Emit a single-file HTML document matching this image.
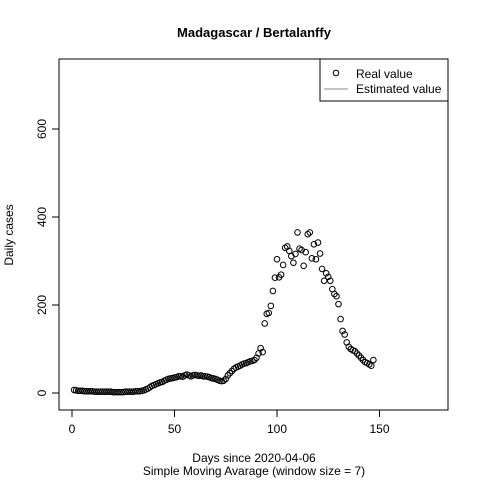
<!DOCTYPE html>
<html><head><meta charset="utf-8"><style>body{margin:0;background:#fff}svg{display:block;font-family:"Liberation Sans",sans-serif}</style></head>
<body>
<svg id="c" width="480" height="480" xmlns="http://www.w3.org/2000/svg">
<rect width="480" height="480" fill="#fff"/>
<text x="254" y="37" text-anchor="middle" font-size="13" font-weight="bold">Madagascar / Bertalanffy</text>
<rect x="59" y="59" width="389" height="351" fill="none" stroke="#000"/>
<g id="xt"></g><g id="yt"></g><g id="pts"></g>
<text transform="translate(13,235) rotate(-90)" text-anchor="middle" font-size="12">Daily cases</text>
<text x="254" y="462" text-anchor="middle" font-size="12">Days since 2020-04-06</text>
<text x="254" y="475" text-anchor="middle" font-size="12">Simple Moving Avarage (window size = 7)</text>
<g>
<rect x="320" y="59" width="128" height="42" fill="#fff" stroke="#000"/>
<circle cx="336" cy="73" r="2.8" fill="none" stroke="#000"/>
<text x="356" y="78" font-size="12">Real value</text>
<line x1="324" y1="89" x2="348" y2="89" stroke="#888"/>
<text x="356" y="93" font-size="12">Estimated value</text>
</g>
</svg>
<script>
const xTicks=[0,50,100,150];
const yTicks=[0,200,400,600];
const realValues=[7,6,5,5,5,4,4,4,4,4,3,3,3,3,3,3,3,3,3,2,2,2,2,2,2,3,3,3,3,3,4,4,4,5,6,8,10,13,16,18,20,22,24,25,28,30,32,33,34,35,36,38,38,37,40,42,40,38,40,41,40,39,40,38,38,37,36,34,33,32,30,28,27,28,32,40,45,50,55,58,60,62,65,67,68,70,72,73,75,80,90,102,93,158,180,182,198,232,262,304,263,269,291,330,333,323,311,296,316,365,328,325,289,320,361,365,306,338,304,342,317,282,255,272,264,255,236,225,220,202,168,141,133,115,105,100,97,95,90,85,80,75,70,68,65,62,75];
const X=d=>72+d*2.05, Y=v=>393-v*0.44;
const ns="http://www.w3.org/2000/svg";
function mk(t,a,p){const e=document.createElementNS(ns,t);for(const k in a)e.setAttribute(k,a[k]);p.appendChild(e);return e;}
const xt=document.getElementById('xt'),yt=document.getElementById('yt'),pts=document.getElementById('pts');
xTicks.forEach(t=>{const l=mk('line',{x1:X(t),x2:X(t),y1:410,y2:417,stroke:'#000'},xt);


const tx=mk('text',{x:X(t),y:433,'text-anchor':'middle','font-size':12},xt);tx.textContent=t;

});
yTicks.forEach(t=>{const l=mk('line',{x1:52,x2:59,y1:Y(t),y2:Y(t),stroke:'#000'},yt);


const tx=mk('text',{transform:`translate(46,${Y(t)}) rotate(-90)`,'text-anchor':'middle','font-size':12},yt);tx.textContent=t;

});
realValues.forEach((v,i)=>{const c=mk('circle',{cx:X(i+1),cy:Y(v),r:2.8,fill:'none',stroke:'#000'},pts);

});
</script>
</body></html>
